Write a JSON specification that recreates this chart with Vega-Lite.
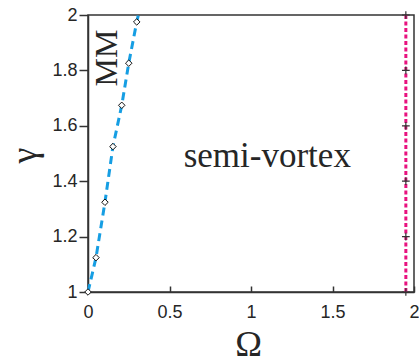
{
  "$schema": "https://vega.github.io/schema/vega-lite/v6.json",
  "width": 326,
  "height": 277,
  "autosize": "none",
  "padding": {"left": 88, "top": 15, "right": 5, "bottom": 72},
  "background": "white",
  "config": {
    "view": {"stroke": "#333333", "strokeWidth": 1.5},
    "axis": {
      "grid": false,
      "domainColor": "#333333",
      "domainWidth": 1.5,
      "tickColor": "#333333",
      "tickWidth": 1.5,
      "labelFont": "Liberation Sans",
      "labelFontSize": 18,
      "labelColor": "#262626",
      "titleFont": "Liberation Serif",
      "titleFontWeight": "normal",
      "titleColor": "#262626"
    }
  },
  "datasets": {
    "mm": [
      {"Omega": 0.0, "gamma": 1.0, "kind": "sample"},
      {"Omega": 0.049, "gamma": 1.124, "kind": "sample"},
      {"Omega": 0.104, "gamma": 1.324, "kind": "sample"},
      {"Omega": 0.153, "gamma": 1.525, "kind": "sample"},
      {"Omega": 0.207, "gamma": 1.674, "kind": "sample"},
      {"Omega": 0.25, "gamma": 1.826, "kind": "sample"},
      {"Omega": 0.299, "gamma": 1.975, "kind": "sample"},
      {"Omega": 0.309, "gamma": 2.0, "kind": "edge"}
    ],
    "sv": [
      {"Omega": 1.95, "gamma": 1.0},
      {"Omega": 1.95, "gamma": 1.2},
      {"Omega": 1.95, "gamma": 1.4},
      {"Omega": 1.95, "gamma": 1.6},
      {"Omega": 1.95, "gamma": 1.8},
      {"Omega": 1.95, "gamma": 2.0}
    ],
    "labels": [
      {"Omega": 0.117, "gamma": 1.845, "label": "MM"},
      {"Omega": 1.10, "gamma": 1.45, "label": "semi-vortex"}
    ]
  },
  "encoding": {
    "x": {
      "field": "Omega", "type": "quantitative",
      "scale": {"domain": [0, 2], "nice": false, "zero": false},
      "axis": {
        "title": "Ω", "values": [0, 0.5, 1, 1.5, 2], "format": "~g",
        "tickSize": -6, "labelPadding": 17, "labelFlush": false,
        "titleFontSize": 36, "titleX": 160, "titleY": 63,
        "titleAlign": "center", "titleBaseline": "alphabetic"
      }
    },
    "y": {
      "field": "gamma", "type": "quantitative",
      "scale": {"domain": [1, 2], "nice": false, "zero": false},
      "axis": {
        "title": "γ", "values": [1, 1.2, 1.4, 1.6, 1.8, 2], "format": "~g",
        "tickSize": 9, "labelPadding": 2, "labelFlush": false,
        "titleFontSize": 36, "titleAngle": 270, "titleX": -64, "titleY": 140,
        "titleAlign": "center", "titleBaseline": "middle"
      }
    }
  },
  "layer": [
    {
      "data": {"name": "mm"},
      "mark": {"type": "line", "color": "#169EE3", "strokeWidth": 3, "strokeDash": [8, 5]}
    },
    {
      "data": {"name": "mm"},
      "transform": [{"filter": "datum.kind === 'sample'"}],
      "mark": {"type": "point", "shape": "diamond", "size": 42, "filled": false, "fill": "white", "fillOpacity": 1, "stroke": "#111111", "strokeWidth": 1, "opacity": 1}
    },
    {
      "data": {"name": "sv"},
      "mark": {"type": "line", "color": "#E8127F", "strokeWidth": 3, "strokeDash": [4, 2.5]}
    },
    {
      "data": {"name": "sv"},
      "mark": {"type": "point", "shape": "M-1,0L1,0M0,-1L0,1", "size": 60, "filled": false, "stroke": "#333333", "strokeWidth": 1.2, "opacity": 1}
    },
    {
      "data": {"name": "labels"},
      "transform": [{"filter": "datum.label === 'MM'"}],
      "mark": {"type": "text", "font": "Liberation Serif", "fontSize": 32, "angle": 270, "align": "center", "baseline": "middle", "color": "#262626"},
      "encoding": {"text": {"field": "label"}}
    },
    {
      "data": {"name": "labels"},
      "transform": [{"filter": "datum.label === 'semi-vortex'"}],
      "mark": {"type": "text", "font": "Liberation Serif", "fontSize": 35, "align": "center", "baseline": "alphabetic", "color": "#262626"},
      "encoding": {"text": {"field": "label"}}
    }
  ]
}
